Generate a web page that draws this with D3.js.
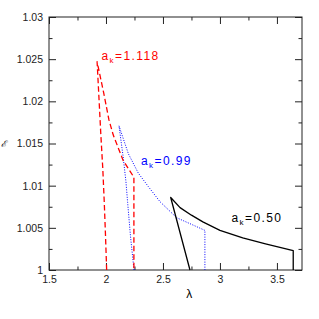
<!DOCTYPE html>
<meta charset="utf-8">
<script src="https://d3js.org/d3.v7.min.js"></script>
<style>
  body { margin: 0; background: #fff; }
  text { font-family: "Liberation Sans", Arial, sans-serif; }
</style>
<div id="my_dataviz"></div>
<script>
// curves: each one goes left branch (bottom -> cusp) then right branch, then drops to 1
const redLam = [2.006, 1.996, 1.985, 1.972, 1.955, 1.94, 1.922, 1.98, 2.026, 2.064, 2.15, 2.245, 2.245];
const redE   = [1.0, 1.004, 1.008, 1.012, 1.016, 1.020, 1.0247, 1.021, 1.0178, 1.016, 1.013, 1.011, 1.0];

const blueLam = [2.246, 2.215, 2.19, 2.175, 2.15, 2.114, 2.196, 2.283, 2.371, 2.474, 2.62, 2.868, 2.868];
const blueE   = [1.0, 1.004, 1.008, 1.0105, 1.0135, 1.0171, 1.0138, 1.0115, 1.0099, 1.0081, 1.0062, 1.0047, 1.0];

const blackLam = [2.737, 2.568, 2.65, 2.75, 2.85, 3.0, 3.2, 3.4, 3.643, 3.643];
const blackE   = [1.0, 1.0086, 1.0074, 1.0065, 1.0057, 1.0047, 1.0038, 1.0031, 1.0023, 1.0];

const xTicks = [1.5, 2, 2.5, 3, 3.5];
const xTickLabels = ["1.5", "2", "2.5", "3", "3.5"];
const xMinor = [1.75, 2.25, 2.75, 3.25];
const yTicks = [1, 1.005, 1.01, 1.015, 1.02, 1.025, 1.03];
const yTickLabels = ["1", "1.005", "1.01", "1.015", "1.02", "1.025", "1.03"];
const yMinor = [1.0025, 1.0075, 1.0125, 1.0175, 1.0225, 1.0275];

const margin = {top: 17, right: 17, bottom: 49, left: 49},
    width = 319 - margin.left - margin.right,
    height = 319 - margin.top - margin.bottom;

const svg = d3.select("#my_dataviz")
  .append("svg")
    .attr("width", 319)
    .attr("height", 319)
  .append("g")
    .attr("transform", `translate(${margin.left},${margin.top})`);

const x = d3.scaleLinear().domain([1.5, 3.72]).range([0, width]);
const y = d3.scaleLinear().domain([1, 1.03]).range([height, 0]);

const axisColor = "#222";

function styleAxis(g) {
  g.select(".domain").remove();
  g.selectAll(".tick line").attr("stroke", axisColor);
  g.selectAll("text").attr("fill", "#222").style("font-size", "10.5px");
}

// bottom
svg.append("g").attr("transform", `translate(0,${height})`)
  .call(d3.axisBottom(x).tickValues(xTicks).tickSize(-7).tickPadding(6)
    .tickFormat((d, i) => xTickLabels[i]))
  .call(styleAxis);
svg.append("g").attr("transform", `translate(0,${height})`)
  .call(d3.axisBottom(x).tickValues(xMinor).tickSize(-3.5).tickFormat(""))
  .call(styleAxis);
// top
svg.append("g")
  .call(d3.axisTop(x).tickValues(xTicks).tickSize(-7).tickFormat(""))
  .call(styleAxis);
svg.append("g")
  .call(d3.axisTop(x).tickValues(xMinor).tickSize(-3.5).tickFormat(""))
  .call(styleAxis);
// left
svg.append("g")
  .call(d3.axisLeft(y).tickValues(yTicks).tickSize(-7).tickPadding(6)
    .tickFormat((d, i) => yTickLabels[i]))
  .call(styleAxis);
svg.append("g")
  .call(d3.axisLeft(y).tickValues(yMinor).tickSize(-3.5).tickFormat(""))
  .call(styleAxis);
// right
svg.append("g").attr("transform", `translate(${width},0)`)
  .call(d3.axisRight(y).tickValues(yTicks).tickSize(-7).tickFormat(""))
  .call(styleAxis);
svg.append("g").attr("transform", `translate(${width},0)`)
  .call(d3.axisRight(y).tickValues(yMinor).tickSize(-3.5).tickFormat(""))
  .call(styleAxis);

// frame
svg.append("rect")
  .attr("width", width).attr("height", height)
  .attr("fill", "none").attr("stroke", axisColor).attr("stroke-width", 1);

const line = d3.line()
  .x(d => x(d[0]))
  .y(d => y(d[1]));

function drawCurve(lam, e, color, dash, w) {
  svg.append("path")
    .datum(d3.zip(lam, e))
    .attr("fill", "none")
    .attr("stroke", color)
    .attr("stroke-width", w)
    .attr("stroke-dasharray", dash)
    .attr("stroke-linejoin", "round")
    .attr("d", line);
}

drawCurve(blueLam, blueE, "#0000ff", "1,1.5", 1);
drawCurve(blackLam, blackE, "#000", null, 1.3);
drawCurve(redLam, redE, "#ff0000", "5.5,3", 1.3);

// labels
function label(px, py, color, val) {
  const t = svg.append("text")
    .attr("x", px - margin.left)
    .attr("y", py - margin.top)
    .attr("fill", color)
    .style("font-size", "12px")
    .style("letter-spacing", "1.4px");
  t.append("tspan").text("a");
  t.append("tspan").attr("dy", 3).style("font-size", "8px").text("k");
  t.append("tspan").attr("dy", -3).text("=" + val);
}
label(101.5, 59.5, "#ff0000", "1.118");
label(141, 165, "#0000ff", "0.99");
label(231.5, 221.5, "#000", "0.50");

// axis titles
svg.append("text")
  .attr("x", x(2.73))
  .attr("y", height + 28)
  .attr("text-anchor", "middle")
  .style("font-size", "12px")
  .text("λ");

svg.append("text")
  .attr("x", 0.5 - margin.left)
  .attr("y", 146.5 - margin.top)
  .style("font-size", "9px")
  .style("font-style", "italic")
  .text("ℰ");
</script>
